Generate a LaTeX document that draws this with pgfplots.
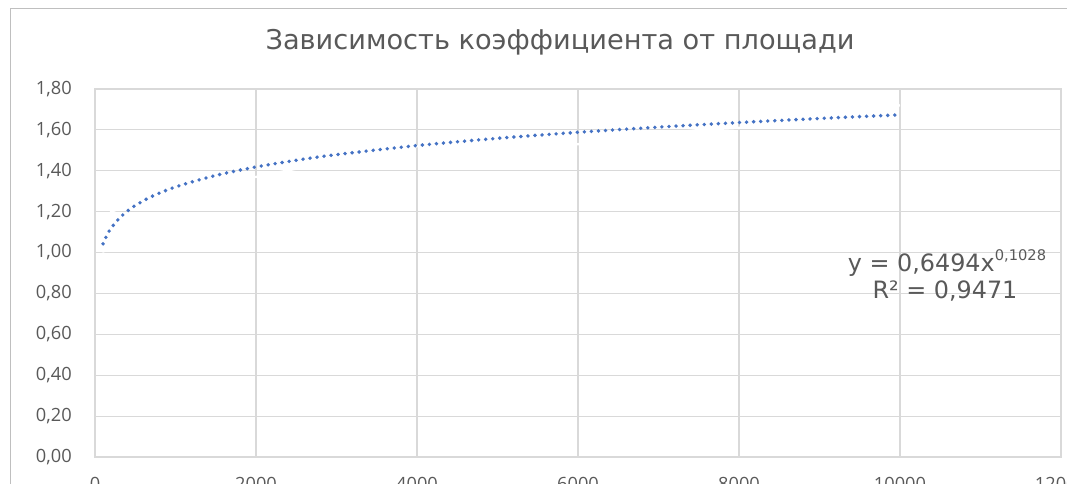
\documentclass[border=0pt]{standalone}
\usepackage{fontspec}
\usepackage{pgfplots}
\pgfplotsset{compat=1.18}
\setmainfont{Open Sans}
\newfontfamily\eqfont{DejaVu Sans}
\newfontfamily\titlefont{DejaVu Sans}
\definecolor{txt}{HTML}{595959}
\definecolor{gridc}{HTML}{D9D9D9}
\definecolor{trend}{HTML}{4472C4}
\definecolor{framec}{HTML}{BFBFBF}
\begin{document}
\begin{tikzpicture}
\draw[framec, line width=0.75pt] (7.5pt,-400pt) -- (7.5pt,-6.75pt) -- (810pt,-6.75pt);
\begin{axis}[
  at={(71.25pt,-342.75pt)}, anchor=south west,
  width=724.5pt, height=276pt, scale only axis,
  xmin=0, xmax=12000, ymin=0, ymax=1.8,
  xtick={0,2000,4000,6000,8000,10000,12000},
  ytick={0,0.2,0.4,0.6,0.8,1.0,1.2,1.4,1.6,1.8},
  scaled x ticks=false, scaled y ticks=false,
  grid=major,
  major grid style={gridc, line width=0.9pt},
  axis line style={gridc, line width=0.9pt},
  major tick length=0pt,
  tick label style={font=\fontsize{13.7}{16}\selectfont, text=txt, /pgf/number format/assume math mode=true},
  yticklabel style={anchor=east, inner sep=0pt, xshift=-17.25pt,
    /pgf/number format/fixed, /pgf/number format/fixed zerofill,
    /pgf/number format/precision=2, /pgf/number format/use comma},
  xticklabel style={anchor=north, inner sep=0pt, yshift=-15pt,
    /pgf/number format/1000 sep={}},
  clip=false,
]
\addplot[white, line width=1.7pt] coordinates {
(100,1.00) (200,1.20) (1000,1.31) (2000,1.37) (2500,1.41) (4000,1.52)
(6000,1.53) (7500,1.60) (8000,1.61) (10000,1.72)
};
\addplot[trend, line width=2.9pt, line cap=round, dash pattern=on 0pt off 5.3pt, smooth] coordinates {
(100,1.0426) (150,1.0870) (200,1.1196) (300,1.1672) (400,1.2023) (500,1.2302)
(700,1.2735) (1000,1.3210) (1500,1.3773) (2000,1.4186) (2500,1.4515)
(3000,1.4790) (4000,1.5234) (5000,1.5587) (6000,1.5882) (7000,1.6136)
(8000,1.6359) (9000,1.6558) (10000,1.6738)
};
\end{axis}
\node[anchor=base, inner sep=0pt, text=txt, font=\titlefont\fontsize{20.4}{24}\selectfont] at (420pt,-37.5pt) {Зависимость коэффициента от площади};
\node[anchor=base, inner sep=0pt, text=txt, font=\eqfont\fontsize{17.9}{20}\selectfont] at (710.25pt,-204pt) {y = 0,6494x\raisebox{0.5em}{\fontsize{11}{12}\selectfont 0,1028}};
\node[anchor=base, inner sep=0pt, text=txt, font=\eqfont\fontsize{17.9}{20}\selectfont] at (708.75pt,-224.25pt) {R² = 0,9471};
\pgfresetboundingbox
\useasboundingbox (0,0) rectangle (800.25pt,-363pt);
\end{tikzpicture}
\end{document}
